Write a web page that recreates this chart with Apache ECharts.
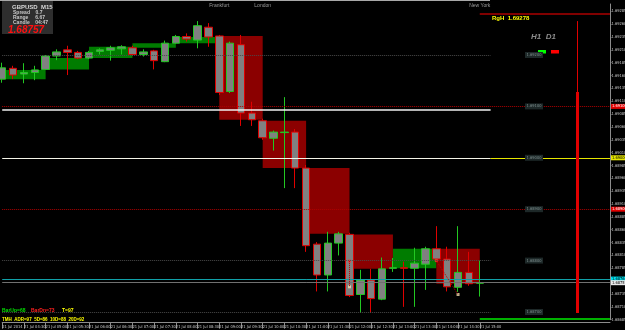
<!DOCTYPE html>
<html>
<head>
<meta charset="utf-8">
<script src="https://cdn.jsdelivr.net/npm/echarts@6/dist/echarts.min.js"></script>
<style>
    html, body {margin: 0; padding: 0; background: #000;}
    #chart {width: 625px; height: 330px;}
</style>
</head>
<body>
<div id="chart"></div>
<script>
// GBPUSD M15, 21 Jul 2014
const times = ['04:00','04:15','04:30','04:45','05:00','05:15','05:30','05:45','06:00','06:15','06:30','06:45',
    '07:00','07:15','07:30','07:45','08:00','08:15','08:30','08:45','09:00','09:15','09:30','09:45',
    '10:00','10:15','10:30','10:45','11:00','11:15','11:30','11:45','12:00','12:15','12:30','12:45',
    '13:00','13:15','13:30','13:45','14:00','14:15','14:30','14:45','15:00'];
const futureSlots = 12;

const opens = [1.69153,1.69174,1.69163,1.69166,1.69172,1.69198,1.69210,1.69205,1.69194,1.69207,1.69209,1.69212,
    1.69214,1.69201,1.69208,1.69187,1.69223,1.69236,1.69229,1.69254,1.69237,1.69129,1.69220,1.69087,
    1.69072,1.69038,1.69049,1.69050,1.68980,1.68832,1.68772,1.68834,1.68851,1.68734,1.68762,1.68725,
    1.68785,1.68786,1.68785,1.68793,1.68823,1.68803,1.68748,1.68777,1.68756];
const closes = [1.69175,1.69161,1.69166,1.69171,1.69198,1.69206,1.69205,1.69194,1.69205,1.69210,1.69214,1.69216,
    1.69201,1.69206,1.69189,1.69223,1.69236,1.69231,1.69257,1.69235,1.69127,1.69223,1.69087,1.69074,
    1.69039,1.69050,1.69050,1.68980,1.68829,1.68772,1.68834,1.68852,1.68732,1.68762,1.68726,1.68784,
    1.68786,1.68785,1.68795,1.68823,1.68803,1.68749,1.68777,1.68755,1.68757];
const lows = [1.69146,1.69153,1.69145,1.69151,1.69171,1.69190,1.69161,1.69192,1.69192,1.69201,1.69189,1.69201,
    1.69198,1.69197,1.69172,1.69186,1.69222,1.69226,1.69213,1.69216,1.69122,1.69126,1.69062,1.69062,
    1.69035,1.69014,1.68941,1.68941,1.68817,1.68740,1.68740,1.68810,1.68729,1.68698,1.68698,1.68723,
    1.68778,1.68710,1.68710,1.68743,1.68797,1.68740,1.68739,1.68751,1.68730];
const highs = [1.69185,1.69179,1.69184,1.69179,1.69200,1.69211,1.69218,1.69208,1.69208,1.69213,1.69218,1.69219,
    1.69218,1.69211,1.69210,1.69228,1.69239,1.69242,1.69266,1.69262,1.69239,1.69226,1.69239,1.69109,
    1.69076,1.69053,1.69118,1.69056,1.68986,1.68836,1.68856,1.68856,1.68854,1.68782,1.68784,1.68806,
    1.68805,1.68798,1.68825,1.68827,1.68867,1.68827,1.68867,1.68817,1.68800];

const roundLevels = [1.6930, 1.6920, 1.6880, 1.6870];
const redLevels = [1.6910, 1.6890];
const midLevel = 1.6900;
const prevLow = 1.69093;
const rangeHigh = 1.69280;
const askPrice = 1.68764;
const bidPrice = 1.68757;
const bottomLine = 1.68686;
const sessionIdx = [20, 24, 44];
const sessionNames = ['Frankfurt', 'London', 'New York'];
const rangeBar = [53, 1.69266, 1.69128, 1.68698];
const fractalUp = [[32, 1.68799], [40, 1.68800]];
const fractalDn = [[32, 1.68749], [42, 1.68734]];

const yMin = 1.68685;
const yMax = 1.692992;
const font = 'Liberation Sans, Arial, sans-serif';
const narrow = 'Liberation Sans Narrow, DejaVu Sans Condensed, Arial Narrow, sans-serif';

const categories = times.concat(Array(futureSlots).fill(''));
const candles = opens.map((o, i) => [o, closes[i], lows[i], highs[i]])
    .concat(Array(futureSlots).fill('-'));
const lastIdx = categories.length - 1;

// one box per hour: open of first M15 bar to close of fourth
const hourBoxes = [];
for (let i0 = 0; i0 + 3 < opens.length; i0 += 4) {
    hourBoxes.push([i0, i0 + 4, opens[i0], closes[i0 + 3]]);
}

const tag = (bg, fg, text) => ({
    show: true, position: 'end', distance: 1, formatter: text,
    backgroundColor: bg, color: fg, fontSize: 4, fontFamily: narrow, padding: [1, 1, 0, 1]
});
const seg = (x0, x1, v, style, label) => [
    {coord: [x0, v], lineStyle: style, label: label || {show: false}},
    {coord: [x1, v]}
];

const lines = [];
roundLevels.forEach(v => lines.push(seg(0, 45, v, {color: '#4a4a4a', type: 'dotted', width: 1})));
redLevels.forEach(v => lines.push(seg(0, lastIdx, v, {color: '#b00000', type: 'dotted', width: 1},
    tag('#e00000', '#fff', v.toFixed(5)))));
lines.push(seg(0, 45, midLevel, {color: '#f4f4e8', type: 'solid', width: 1}));
lines.push(seg(45, lastIdx, midLevel, {color: '#e6e600', type: 'solid', width: 1},
    tag('#e6e600', '#000', midLevel.toFixed(5))));
lines.push(seg(0, 45, prevLow, {color: '#f0f0f0', type: 'solid', width: 1.5}));
lines.push(seg(44, lastIdx, rangeHigh, {color: '#800000', type: 'solid', width: 2}));
lines.push(seg(0, lastIdx, askPrice, {color: '#10a0a8', type: 'solid', width: 1},
    tag('#00e0f0', '#000', askPrice.toFixed(5))));
lines.push(seg(0, lastIdx, bidPrice, {color: '#707070', type: 'solid', width: 1},
    tag('#e8e8e8', '#000', bidPrice.toFixed(5))));
lines.push(seg(44, lastIdx, bottomLine, {color: '#00b000', type: 'solid', width: 2}));
sessionIdx.forEach(i => lines.push([
    {coord: [i, yMin - 0.00002], lineStyle: {color: '#3c4a3c', type: 'dotted', width: 1}, label: {show: false}},
    {coord: [i, yMax]}
]));
lines.push([{coord: [rangeBar[0], rangeBar[1]], lineStyle: {color: '#e00000', type: 'solid', width: 1}, label: {show: false}},
    {coord: [rangeBar[0], rangeBar[3]]}]);
lines.push([{coord: [rangeBar[0], rangeBar[2]], lineStyle: {color: '#e00000', type: 'solid', width: 3}, label: {show: false}},
    {coord: [rangeBar[0], rangeBar[3]]}]);
fractalUp.forEach((p, k) => lines.push([
    {coord: p, lineStyle: {color: '#c00000', type: 'dotted', width: 1}, label: {show: false}},
    {coord: fractalDn[k]}
]));

const levelTags = roundLevels.concat(redLevels, [midLevel]).map(v => ({
    coord: [49, v], value: v.toFixed(5),
    symbol: 'rect', symbolSize: [18, 6], itemStyle: {color: '#1d2828'},
    label: {show: true, position: 'inside', color: '#7f8f8f', fontSize: 4, fontFamily: narrow, formatter: '{c}'}
}));
const sessionTags = sessionIdx.map((i, k) => ({
    coord: [i, 1.692953], value: sessionNames[k], symbolSize: 0,
    label: {show: true, position: 'inside', color: '#9a9a9a', fontSize: 5, fontFamily: font, formatter: '{c}'}
}));

const chart = echarts.init(document.getElementById('chart'));
chart.setOption({
    backgroundColor: '#000',
    animation: false,
    grid: {left: 2.2, right: 15, top: 4, bottom: 10.3, containLabel: false, outerBoundsMode: 'none'},
    xAxis: {
        type: 'category', data: categories, boundaryGap: false, offset: 3,
        axisLine: {lineStyle: {color: '#8c8c8c'}},
        axisTick: {show: true, length: 6, interval: (i) => i % 2 === 0 && i <= 44, lineStyle: {color: '#8c8c8c'}},
        axisLabel: {
            interval: 1, fontSize: 4, fontFamily: narrow, color: '#c8c8c8', align: 'left', margin: 2,
            formatter: (v, i) => i === 0 ? '21 Jul 2014' : (v ? '21 Jul ' + v : '')
        },
        splitLine: {show: false}
    },
    yAxis: {
        type: 'value', position: 'right', min: yMin, max: yMax, interval: 0.00025,
        axisLine: {show: true, lineStyle: {color: '#8c8c8c'}},
        axisTick: {show: true, length: 1.5, lineStyle: {color: '#8c8c8c'}},
        axisLabel: {fontSize: 4, fontFamily: narrow, color: '#c8c8c8', margin: 1.5, showMaxLabel: false,
            formatter: v => v.toFixed(5)},
        splitLine: {show: false}
    },
    series: [
        {
            type: 'custom', z: 1, silent: true, data: hourBoxes,
            encode: {x: [0, 1], y: [2, 3]},
            renderItem: (params, api) => {
                const p0 = api.coord([api.value(0), api.value(2)]);
                const p1 = api.coord([api.value(1), api.value(3)]);
                const up = api.value(3) > api.value(2);
                return {
                    type: 'rect',
                    shape: {x: p0[0], y: Math.min(p0[1], p1[1]), width: p1[0] - p0[0], height: Math.abs(p1[1] - p0[1])},
                    style: {fill: up ? '#007c00' : '#8b0000'}
                };
            }
        },
        {
            type: 'candlestick', z: 3, data: candles, barWidth: 8, clip: false,
            itemStyle: {color: '#808080', color0: '#808080', borderColor: '#22c822', borderColor0: '#e00000', borderWidth: 1},
            markLine: {silent: true, symbol: 'none', animation: false, label: {show: false}, data: lines},
            markPoint: {silent: true, animation: false, data: levelTags.concat(sessionTags)}
        },
        {
            type: 'scatter', z: 4, symbol: 'rect', symbolSize: 3, data: fractalUp,
            itemStyle: {color: '#ff3030'}
        },
        {
            type: 'scatter', z: 4, symbol: 'rect', symbolSize: 3, data: fractalDn,
            itemStyle: {color: '#f0e0b0'}
        }
    ],
    graphic: [
        {type: 'line', shape: {x1: 0, y1: 0.5, x2: 490, y2: 0.5}, style: {stroke: '#a8a8a8', lineWidth: 1}},
        {type: 'rect', left: 2, top: 1, shape: {width: 51, height: 33}, style: {fill: '#2e2e2e'}},
        {type: 'text', left: 12, top: 4, style: {text: 'GBPUSD  M15', fill: '#d8d8d8', font: 'bold 6px ' + font}},
        {type: 'text', left: 13, top: 10.5, style: {text: 'Spread    0.7', fill: '#c8c8c8', font: 'bold 5px ' + font}},
        {type: 'text', left: 13, top: 15.5, style: {text: 'Range     6.67', fill: '#c8c8c8', font: 'bold 5px ' + font}},
        {type: 'text', left: 13, top: 20.5, style: {text: 'Candle    04:47', fill: '#c8c8c8', font: 'bold 5px ' + font}},
        {type: 'text', left: 8, top: 25, style: {text: '1.68757', fill: '#ff1010', font: 'italic bold 10px ' + font}},
        {type: 'text', left: 492, top: 15.5, style: {text: 'RgH  1.69278', fill: '#ffff00', font: 'bold 6px ' + font}},
        {type: 'text', left: 531, top: 33, style: {text: 'H1  D1', fill: '#8c8c8c', font: 'italic bold 8px ' + font}},
        {type: 'rect', left: 538, top: 50, shape: {width: 8, height: 3.5}, style: {fill: '#00ff00'}},
        {type: 'rect', left: 551, top: 50, shape: {width: 8, height: 3.5}, style: {fill: '#ff0000'}},
        {type: 'text', left: 2, top: 308, style: {text: 'BarUp=68', fill: '#00e000', font: 'bold 5px ' + font}},
        {type: 'text', left: 31, top: 308, style: {text: 'BarDn=73', fill: '#ff2020', font: 'bold 5px ' + font}},
        {type: 'text', left: 62, top: 308, style: {text: 'T=97', fill: '#ffff00', font: 'bold 5px ' + font}},
        {type: 'text', left: 2, top: 317, style: {text: 'TMH  ADR=97  5D=86  10D=88  20D=92', fill: '#ffff00', font: 'bold 4.5px ' + font}}
    ]
});
</script>
</body>
</html>
